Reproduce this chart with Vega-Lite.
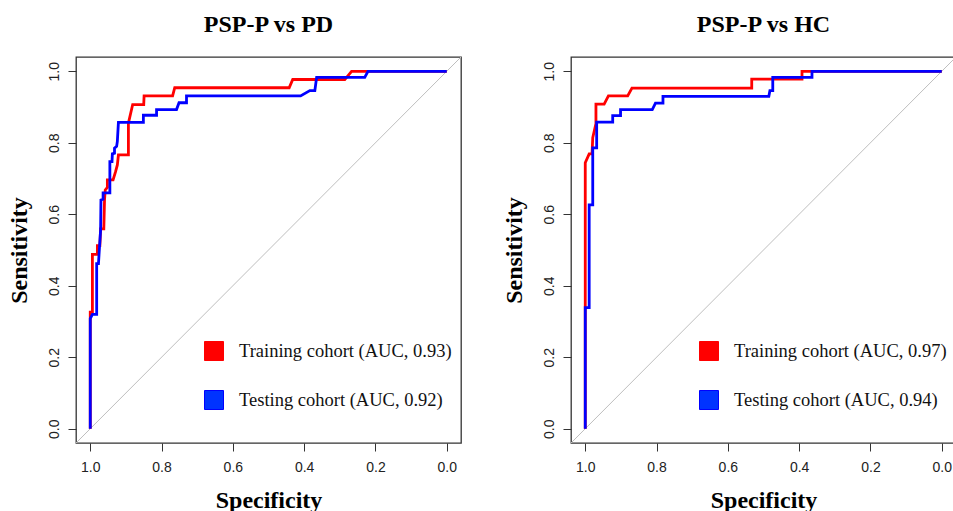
{
  "$schema": "https://vega.github.io/schema/vega-lite/v6.json",
  "padding": {"left": 6, "top": 12, "right": 0, "bottom": 0},
  "background": "white",
  "config": {
    "view": {"stroke": "#333333", "strokeWidth": 1.3},
    "axis": {"grid": false, "domain": false, "tickColor": "#333333", "tickSize": 8, "tickWidth": 1, "labelFont": "Liberation Sans", "labelFontSize": 14, "labelColor": "#222222", "labelFlush": false, "titleFont": "Liberation Serif", "titleFontSize": 24, "titleFontWeight": "bold", "titleColor": "#000000"},
    "title": {"font": "Liberation Serif", "fontSize": 24, "fontWeight": "bold", "color": "#000000", "offset": 20, "anchor": "middle"}
  },
  "datasets": {
    "diag": [{"spec": 1.04, "sens": -0.04}, {"spec": -0.04, "sens": 1.04}],
    "pd": [
      {"series": "Training cohort (AUC, 0.93)", "idx": 1, "spec": 1.0, "sens": 0.0},
      {"series": "Training cohort (AUC, 0.93)", "idx": 2, "spec": 1.0, "sens": 0.326},
      {"series": "Training cohort (AUC, 0.93)", "idx": 3, "spec": 0.994, "sens": 0.326},
      {"series": "Training cohort (AUC, 0.93)", "idx": 4, "spec": 0.994, "sens": 0.488},
      {"series": "Training cohort (AUC, 0.93)", "idx": 5, "spec": 0.98, "sens": 0.488},
      {"series": "Training cohort (AUC, 0.93)", "idx": 6, "spec": 0.98, "sens": 0.512},
      {"series": "Training cohort (AUC, 0.93)", "idx": 7, "spec": 0.973, "sens": 0.512},
      {"series": "Training cohort (AUC, 0.93)", "idx": 8, "spec": 0.971, "sens": 0.559},
      {"series": "Training cohort (AUC, 0.93)", "idx": 9, "spec": 0.962, "sens": 0.559},
      {"series": "Training cohort (AUC, 0.93)", "idx": 10, "spec": 0.96, "sens": 0.64},
      {"series": "Training cohort (AUC, 0.93)", "idx": 11, "spec": 0.958, "sens": 0.668},
      {"series": "Training cohort (AUC, 0.93)", "idx": 12, "spec": 0.952, "sens": 0.675},
      {"series": "Training cohort (AUC, 0.93)", "idx": 13, "spec": 0.952, "sens": 0.696},
      {"series": "Training cohort (AUC, 0.93)", "idx": 14, "spec": 0.936, "sens": 0.696},
      {"series": "Training cohort (AUC, 0.93)", "idx": 15, "spec": 0.929, "sens": 0.719},
      {"series": "Training cohort (AUC, 0.93)", "idx": 16, "spec": 0.924, "sens": 0.738},
      {"series": "Training cohort (AUC, 0.93)", "idx": 17, "spec": 0.921, "sens": 0.766},
      {"series": "Training cohort (AUC, 0.93)", "idx": 18, "spec": 0.893, "sens": 0.766},
      {"series": "Training cohort (AUC, 0.93)", "idx": 19, "spec": 0.893, "sens": 0.855},
      {"series": "Training cohort (AUC, 0.93)", "idx": 20, "spec": 0.881, "sens": 0.907},
      {"series": "Training cohort (AUC, 0.93)", "idx": 21, "spec": 0.85, "sens": 0.907},
      {"series": "Training cohort (AUC, 0.93)", "idx": 22, "spec": 0.849, "sens": 0.931},
      {"series": "Training cohort (AUC, 0.93)", "idx": 23, "spec": 0.769, "sens": 0.931},
      {"series": "Training cohort (AUC, 0.93)", "idx": 24, "spec": 0.763, "sens": 0.954},
      {"series": "Training cohort (AUC, 0.93)", "idx": 25, "spec": 0.442, "sens": 0.954},
      {"series": "Training cohort (AUC, 0.93)", "idx": 26, "spec": 0.432, "sens": 0.977},
      {"series": "Training cohort (AUC, 0.93)", "idx": 27, "spec": 0.286, "sens": 0.977},
      {"series": "Training cohort (AUC, 0.93)", "idx": 28, "spec": 0.267, "sens": 1.0},
      {"series": "Training cohort (AUC, 0.93)", "idx": 29, "spec": 0.0, "sens": 1.0},
      {"series": "Testing cohort (AUC, 0.92)", "idx": 1, "spec": 1.0, "sens": 0.0},
      {"series": "Testing cohort (AUC, 0.92)", "idx": 2, "spec": 1.0, "sens": 0.308},
      {"series": "Testing cohort (AUC, 0.92)", "idx": 3, "spec": 0.994, "sens": 0.32},
      {"series": "Testing cohort (AUC, 0.92)", "idx": 4, "spec": 0.982, "sens": 0.32},
      {"series": "Testing cohort (AUC, 0.92)", "idx": 5, "spec": 0.982, "sens": 0.462},
      {"series": "Testing cohort (AUC, 0.92)", "idx": 6, "spec": 0.977, "sens": 0.462},
      {"series": "Testing cohort (AUC, 0.92)", "idx": 7, "spec": 0.974, "sens": 0.509},
      {"series": "Testing cohort (AUC, 0.92)", "idx": 8, "spec": 0.971, "sens": 0.556},
      {"series": "Testing cohort (AUC, 0.92)", "idx": 9, "spec": 0.97, "sens": 0.64},
      {"series": "Testing cohort (AUC, 0.92)", "idx": 10, "spec": 0.964, "sens": 0.642},
      {"series": "Testing cohort (AUC, 0.92)", "idx": 11, "spec": 0.964, "sens": 0.66},
      {"series": "Testing cohort (AUC, 0.92)", "idx": 12, "spec": 0.945, "sens": 0.66},
      {"series": "Testing cohort (AUC, 0.92)", "idx": 13, "spec": 0.945, "sens": 0.747},
      {"series": "Testing cohort (AUC, 0.92)", "idx": 14, "spec": 0.939, "sens": 0.747},
      {"series": "Testing cohort (AUC, 0.92)", "idx": 15, "spec": 0.938, "sens": 0.769},
      {"series": "Testing cohort (AUC, 0.92)", "idx": 16, "spec": 0.932, "sens": 0.771},
      {"series": "Testing cohort (AUC, 0.92)", "idx": 17, "spec": 0.932, "sens": 0.785},
      {"series": "Testing cohort (AUC, 0.92)", "idx": 18, "spec": 0.926, "sens": 0.79},
      {"series": "Testing cohort (AUC, 0.92)", "idx": 19, "spec": 0.924, "sens": 0.804},
      {"series": "Testing cohort (AUC, 0.92)", "idx": 20, "spec": 0.921, "sens": 0.857},
      {"series": "Testing cohort (AUC, 0.92)", "idx": 21, "spec": 0.851, "sens": 0.857},
      {"series": "Testing cohort (AUC, 0.92)", "idx": 22, "spec": 0.851, "sens": 0.877},
      {"series": "Testing cohort (AUC, 0.92)", "idx": 23, "spec": 0.814, "sens": 0.877},
      {"series": "Testing cohort (AUC, 0.92)", "idx": 24, "spec": 0.814, "sens": 0.893},
      {"series": "Testing cohort (AUC, 0.92)", "idx": 25, "spec": 0.758, "sens": 0.893},
      {"series": "Testing cohort (AUC, 0.92)", "idx": 26, "spec": 0.751, "sens": 0.912},
      {"series": "Testing cohort (AUC, 0.92)", "idx": 27, "spec": 0.73, "sens": 0.912},
      {"series": "Testing cohort (AUC, 0.92)", "idx": 28, "spec": 0.73, "sens": 0.931},
      {"series": "Testing cohort (AUC, 0.92)", "idx": 29, "spec": 0.41, "sens": 0.931},
      {"series": "Testing cohort (AUC, 0.92)", "idx": 30, "spec": 0.384, "sens": 0.946},
      {"series": "Testing cohort (AUC, 0.92)", "idx": 31, "spec": 0.37, "sens": 0.946},
      {"series": "Testing cohort (AUC, 0.92)", "idx": 32, "spec": 0.365, "sens": 0.983},
      {"series": "Testing cohort (AUC, 0.92)", "idx": 33, "spec": 0.23, "sens": 0.983},
      {"series": "Testing cohort (AUC, 0.92)", "idx": 34, "spec": 0.221, "sens": 1.0},
      {"series": "Testing cohort (AUC, 0.92)", "idx": 35, "spec": 0.0, "sens": 1.0}
    ],
    "hc": [
      {"series": "Training cohort (AUC, 0.97)", "idx": 1, "spec": 1.0, "sens": 0.0},
      {"series": "Training cohort (AUC, 0.97)", "idx": 2, "spec": 1.0, "sens": 0.744},
      {"series": "Training cohort (AUC, 0.97)", "idx": 3, "spec": 0.989, "sens": 0.769},
      {"series": "Training cohort (AUC, 0.97)", "idx": 4, "spec": 0.981, "sens": 0.769},
      {"series": "Training cohort (AUC, 0.97)", "idx": 5, "spec": 0.979, "sens": 0.814},
      {"series": "Training cohort (AUC, 0.97)", "idx": 6, "spec": 0.97, "sens": 0.854},
      {"series": "Training cohort (AUC, 0.97)", "idx": 7, "spec": 0.97, "sens": 0.908},
      {"series": "Training cohort (AUC, 0.97)", "idx": 8, "spec": 0.947, "sens": 0.908},
      {"series": "Training cohort (AUC, 0.97)", "idx": 9, "spec": 0.935, "sens": 0.931},
      {"series": "Training cohort (AUC, 0.97)", "idx": 10, "spec": 0.881, "sens": 0.931},
      {"series": "Training cohort (AUC, 0.97)", "idx": 11, "spec": 0.869, "sens": 0.953},
      {"series": "Training cohort (AUC, 0.97)", "idx": 12, "spec": 0.533, "sens": 0.953},
      {"series": "Training cohort (AUC, 0.97)", "idx": 13, "spec": 0.533, "sens": 0.978},
      {"series": "Training cohort (AUC, 0.97)", "idx": 14, "spec": 0.392, "sens": 0.978},
      {"series": "Training cohort (AUC, 0.97)", "idx": 15, "spec": 0.392, "sens": 1.0},
      {"series": "Training cohort (AUC, 0.97)", "idx": 16, "spec": 0.0, "sens": 1.0},
      {"series": "Testing cohort (AUC, 0.94)", "idx": 1, "spec": 1.0, "sens": 0.0},
      {"series": "Testing cohort (AUC, 0.94)", "idx": 2, "spec": 1.0, "sens": 0.339},
      {"series": "Testing cohort (AUC, 0.94)", "idx": 3, "spec": 0.989, "sens": 0.339},
      {"series": "Testing cohort (AUC, 0.94)", "idx": 4, "spec": 0.989, "sens": 0.626},
      {"series": "Testing cohort (AUC, 0.94)", "idx": 5, "spec": 0.979, "sens": 0.626},
      {"series": "Testing cohort (AUC, 0.94)", "idx": 6, "spec": 0.979, "sens": 0.786},
      {"series": "Testing cohort (AUC, 0.94)", "idx": 7, "spec": 0.968, "sens": 0.786},
      {"series": "Testing cohort (AUC, 0.94)", "idx": 8, "spec": 0.968, "sens": 0.858},
      {"series": "Testing cohort (AUC, 0.94)", "idx": 9, "spec": 0.923, "sens": 0.858},
      {"series": "Testing cohort (AUC, 0.94)", "idx": 10, "spec": 0.923, "sens": 0.876},
      {"series": "Testing cohort (AUC, 0.94)", "idx": 11, "spec": 0.901, "sens": 0.876},
      {"series": "Testing cohort (AUC, 0.94)", "idx": 12, "spec": 0.901, "sens": 0.893},
      {"series": "Testing cohort (AUC, 0.94)", "idx": 13, "spec": 0.812, "sens": 0.893},
      {"series": "Testing cohort (AUC, 0.94)", "idx": 14, "spec": 0.803, "sens": 0.911},
      {"series": "Testing cohort (AUC, 0.94)", "idx": 15, "spec": 0.782, "sens": 0.911},
      {"series": "Testing cohort (AUC, 0.94)", "idx": 16, "spec": 0.782, "sens": 0.93},
      {"series": "Testing cohort (AUC, 0.94)", "idx": 17, "spec": 0.485, "sens": 0.93},
      {"series": "Testing cohort (AUC, 0.94)", "idx": 18, "spec": 0.482, "sens": 0.946},
      {"series": "Testing cohort (AUC, 0.94)", "idx": 19, "spec": 0.474, "sens": 0.946},
      {"series": "Testing cohort (AUC, 0.94)", "idx": 20, "spec": 0.474, "sens": 0.983},
      {"series": "Testing cohort (AUC, 0.94)", "idx": 21, "spec": 0.364, "sens": 0.983},
      {"series": "Testing cohort (AUC, 0.94)", "idx": 22, "spec": 0.364, "sens": 1.0},
      {"series": "Testing cohort (AUC, 0.94)", "idx": 23, "spec": 0.0, "sens": 1.0}
    ]
  },
  "spacing": 39,
  "resolve": {"scale": {"color": "independent"}, "legend": {"color": "independent"}},
  "hconcat": [
    {
      "title": "PSP-P vs PD",
      "width": 385,
      "height": 386,
      "layer": [
        {
          "data": {"name": "diag"},
          "mark": {"type": "line", "color": "#bebebe", "strokeWidth": 1, "clip": true},
          "encoding": {
            "x": {"field": "spec", "type": "quantitative", "scale": {"domain": [-0.04, 1.04], "reverse": true, "nice": false, "zero": false}},
            "y": {"field": "sens", "type": "quantitative", "scale": {"domain": [-0.04, 1.04], "nice": false, "zero": false}}
          }
        },
        {
          "data": {"name": "pd"},
          "mark": {"type": "line", "strokeWidth": 2.8, "strokeJoin": "miter"},
          "encoding": {
            "x": {"field": "spec", "type": "quantitative", "scale": {"domain": [-0.04, 1.04], "reverse": true, "nice": false, "zero": false},
                  "axis": {"title": "Specificity", "values": [0, 0.2, 0.4, 0.6, 0.8, 1], "format": ".1f", "labelPadding": 9, "titlePadding": 14}},
            "y": {"field": "sens", "type": "quantitative", "scale": {"domain": [-0.04, 1.04], "nice": false, "zero": false},
                  "axis": {"title": "Sensitivity", "values": [0, 0.2, 0.4, 0.6, 0.8, 1], "format": ".1f", "labelAngle": 270, "labelAlign": "center", "labelBaseline": "bottom", "labelPadding": 7, "titlePadding": 16}},
            "color": {"field": "series", "type": "nominal",
                      "scale": {"domain": ["Training cohort (AUC, 0.93)", "Testing cohort (AUC, 0.92)"], "range": ["#ff0000", "#0000ff"]},
                      "legend": {"title": null, "orient": "none", "legendX": 128, "legendY": 284, "symbolType": "square", "symbolSize": 361, "symbolStrokeWidth": 1, "labelFont": "Liberation Serif", "labelFontSize": 18.5, "labelColor": "#111111", "labelOffset": 15, "rowPadding": 25, "padding": 0, "labelLimit": 400,
                                 "encode": {"symbols": {"update": {"fill": {"signal": "indexof(datum.value, 'Training') === 0 ? '#ff0000' : '#0033ff'"}, "fillOpacity": {"value": 1}, "stroke": {"value": "#333333"}, "strokeWidth": {"value": 1}}}}}},
            "order": {"field": "idx", "type": "quantitative"}
          }
        }
      ]
    },
    {
      "title": "PSP-P vs HC",
      "width": 385,
      "height": 386,
      "layer": [
        {
          "data": {"name": "diag"},
          "mark": {"type": "line", "color": "#bebebe", "strokeWidth": 1, "clip": true},
          "encoding": {
            "x": {"field": "spec", "type": "quantitative", "scale": {"domain": [-0.04, 1.04], "reverse": true, "nice": false, "zero": false}},
            "y": {"field": "sens", "type": "quantitative", "scale": {"domain": [-0.04, 1.04], "nice": false, "zero": false}}
          }
        },
        {
          "data": {"name": "hc"},
          "mark": {"type": "line", "strokeWidth": 2.8, "strokeJoin": "miter"},
          "encoding": {
            "x": {"field": "spec", "type": "quantitative", "scale": {"domain": [-0.04, 1.04], "reverse": true, "nice": false, "zero": false},
                  "axis": {"title": "Specificity", "values": [0, 0.2, 0.4, 0.6, 0.8, 1], "format": ".1f", "labelPadding": 9, "titlePadding": 14}},
            "y": {"field": "sens", "type": "quantitative", "scale": {"domain": [-0.04, 1.04], "nice": false, "zero": false},
                  "axis": {"title": "Sensitivity", "values": [0, 0.2, 0.4, 0.6, 0.8, 1], "format": ".1f", "labelAngle": 270, "labelAlign": "center", "labelBaseline": "bottom", "labelPadding": 7, "titlePadding": 16}},
            "color": {"field": "series", "type": "nominal",
                      "scale": {"domain": ["Training cohort (AUC, 0.97)", "Testing cohort (AUC, 0.94)"], "range": ["#ff0000", "#0000ff"]},
                      "legend": {"title": null, "orient": "none", "legendX": 128, "legendY": 284, "symbolType": "square", "symbolSize": 361, "symbolStrokeWidth": 1, "labelFont": "Liberation Serif", "labelFontSize": 18.5, "labelColor": "#111111", "labelOffset": 15, "rowPadding": 25, "padding": 0, "labelLimit": 400,
                                 "encode": {"symbols": {"update": {"fill": {"signal": "indexof(datum.value, 'Training') === 0 ? '#ff0000' : '#0033ff'"}, "fillOpacity": {"value": 1}, "stroke": {"value": "#333333"}, "strokeWidth": {"value": 1}}}}}},
            "order": {"field": "idx", "type": "quantitative"}
          }
        }
      ]
    }
  ]
}
